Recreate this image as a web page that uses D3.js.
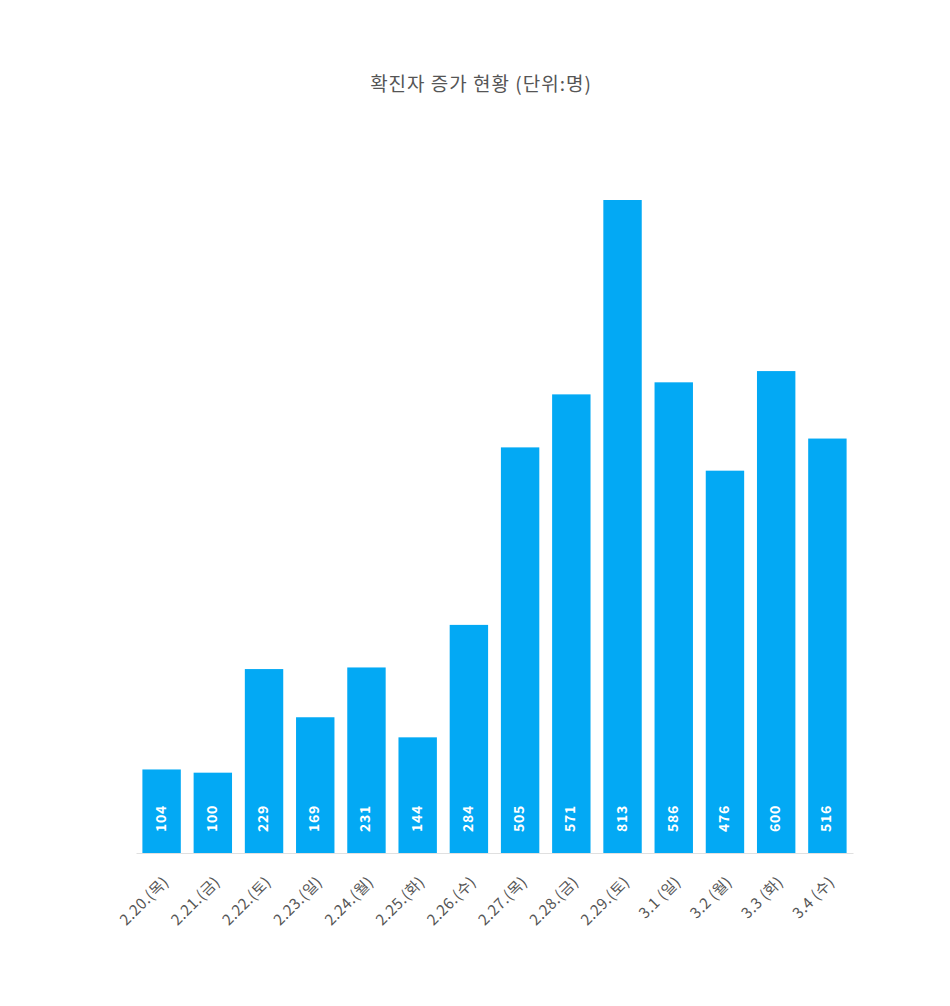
<!DOCTYPE html>
<html>
<head>
<meta charset="utf-8">
<script src="https://cdn.jsdelivr.net/npm/d3@7"></script>
<style>
  body { margin: 0; background: #fff; }
  svg { font-family: "Noto Sans CJK KR", "Noto Sans", sans-serif; }
</style>
</head>
<body>
<svg></svg>
<script>
const categories = ["2.20.(목)", "2.21.(금)", "2.22.(토)", "2.23.(일)", "2.24.(월)", "2.25.(화)", "2.26.(수)",
  "2.27.(목)", "2.28.(금)", "2.29.(토)", "3.1 (일)", "3.2 (월)", "3.3 (화)", "3.4 (수)"]
const values = [104, 100, 229, 169, 231, 144, 284, 505, 571, 813, 586, 476, 600, 516]
const title = "확진자 증가 현황 (단위:명)"

let width = 950
let height = 1006
let plotLeft = 136
let plotRight = 853
let plotBottom = 853
let plotTop = 200

let svg = d3.select("svg")
  .attr("width", width)
  .attr("height", height)

let xScale = d3.scaleBand()
  .domain(categories)
  .range([plotLeft, plotRight])
  .paddingInner(0.25)
  .paddingOuter(0.125)

let yScale = d3.scaleLinear()
  .domain([0, d3.max(values)])
  .range([plotBottom, plotTop])

svg.append("text")
  .attr("x", 481)
  .attr("y", 91)
  .attr("text-anchor", "middle")
  .attr("font-size", 19)
  .attr("letter-spacing", 1)
  .attr("fill", "#555")
  .text(title)

// bars
svg.selectAll("rect.bar")
  .data(values)
  .enter()
  .append("rect")
  .attr("class", "bar")
  .attr("x", (d, i) => xScale(categories[i]))
  .attr("y", d => yScale(d))
  .attr("width", xScale.bandwidth())
  .attr("height", d => plotBottom - yScale(d))
  .attr("fill", "#03a9f4")

// value labels inside bars
svg.selectAll("text.val")
  .data(values)
  .enter()
  .append("text")
  .attr("class", "val")
  .attr("transform", (d, i) => "translate(" + (xScale(categories[i]) + xScale.bandwidth() / 2 + 4) + "," + (plotBottom - 21) + ") rotate(-90)")
  .attr("font-size", 14)
  .attr("font-weight", "bold")
  .attr("letter-spacing", 0.7)
  .attr("fill", "#fff")
  .text(d => d)

// x axis
let xAxis = d3.axisBottom(xScale).tickSize(0).tickPadding(0)

let gx = svg.append("g")
  .attr("transform", "translate(0," + plotBottom + ")")
  .call(xAxis)

gx.select(".domain").attr("stroke", "#e0e0e0")

gx.selectAll(".tick text")
  .attr("font-family", "\"Noto Sans CJK KR\", \"Noto Sans\", sans-serif")
  .attr("font-size", 15)
  .attr("letter-spacing", 0.5)
  .attr("fill", "#555")
  .attr("text-anchor", "end")
  .attr("dy", null)
  .attr("transform", "translate(8,30) rotate(-45)")
</script>
</body>
</html>
